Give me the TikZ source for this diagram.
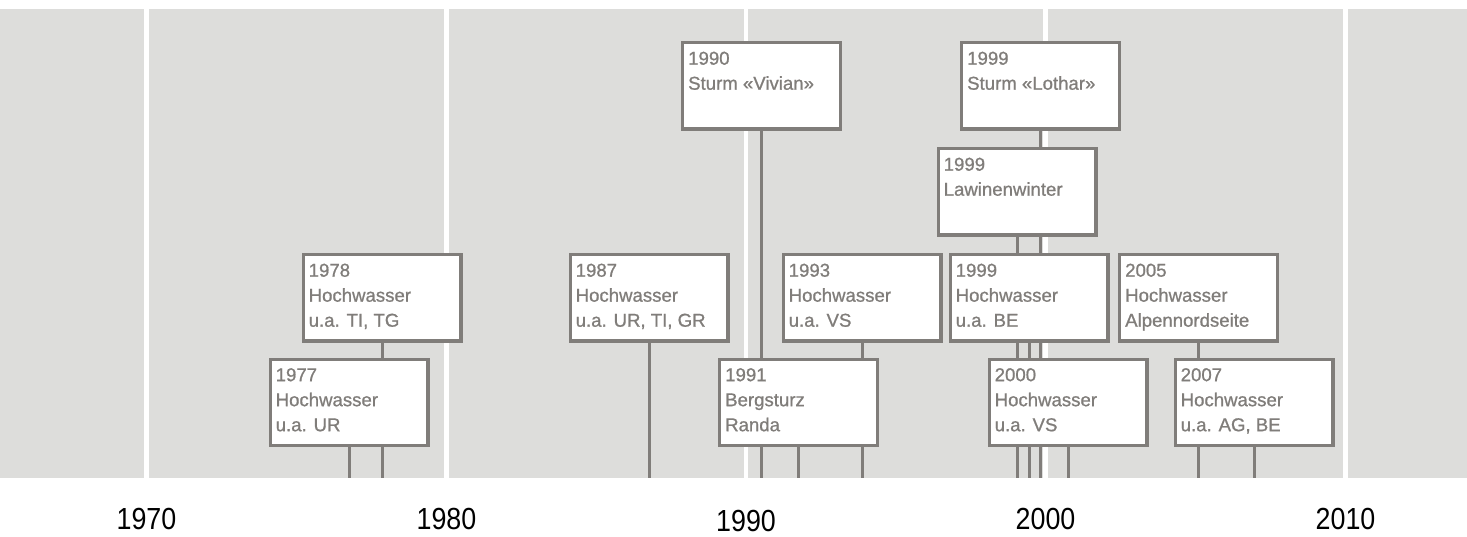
\documentclass[tikz,border=0pt]{standalone}
\usepackage{fontspec}
\setmainfont{Liberation Sans}
\newfontfamily\boxfont[FakeBold=0.9]{Liberation Sans}
\newfontfamily\yearfont[FakeStretch=0.88]{Liberation Sans}
\definecolor{bggray}{HTML}{DDDDDB}
\definecolor{boxgray}{HTML}{807D7A}
\pgfdeclarelayer{back}
\pgfdeclarelayer{lines}
\pgfsetlayers{back,lines,main}
\tikzset{
  evbox/.style={draw=boxgray, line width=3.2pt, fill=white, minimum width=157.8pt,
    minimum height=86.3pt, inner sep=0pt, anchor=north west},
  evtext/.style={anchor=north west, inner sep=0pt, align=left, text=boxgray,
    font=\boxfont\fontsize{18.6}{25}\selectfont},
  thread/.style={draw=boxgray, line width=3pt},
  yearlbl/.style={font=\yearfont\fontsize{30.5}{30.5}\selectfont, text=black, anchor=base},
  divider/.style={draw=white, line width=4.5pt}
}
\newcommand\evnode[4]{%
  \node[evbox] (#1) at (#2+1.6,#3+1.6) {};
  \node[evtext] (#1t) at (#2+8.5,#3+12) {#4};
}
\begin{document}
\begin{tikzpicture}[x=1pt,y=-1pt]
\useasboundingbox (0,0) rectangle (1467,536);
\begin{pgfonlayer}{back}
  \fill[bggray] (0,9) rectangle (1467,478);
  \foreach \xx in {146.5,446.5,746,1045.5,1345.5}
    \draw[divider] (\xx,9) -- (\xx,478);
\end{pgfonlayer}
\coordinate (axis) at (0,478);
% events
\evnode{e1978}{300}{251.5}{1978\\Hochwasser\\u.a. TI, TG}
\evnode{e1977}{267}{356}{1977\\Hochwasser\\u.a. UR}
\evnode{e1987}{567}{251.5}{1987\\Hochwasser\\u.a. UR, TI, GR}
\evnode{e1990}{679.5}{39.5}{1990\\Sturm «Vivian»}
\evnode{e1993}{780}{251.5}{1993\\Hochwasser\\u.a. VS}
\evnode{e1991}{716.5}{356}{1991\\Bergsturz\\Randa}
\evnode{e1999s}{958.5}{39.5}{1999\\Sturm «Lothar»}
\evnode{e1999l}{935}{145.5}{1999\\Lawinenwinter}
\evnode{e1999h}{947}{251.5}{1999\\Hochwasser\\u.a. BE}
\evnode{e2005}{1116.5}{251.5}{2005\\Hochwasser\\Alpennordseite}
\evnode{e2000}{986}{356}{2000\\Hochwasser\\u.a. VS}
\evnode{e2007}{1172}{356}{2007\\Hochwasser\\u.a. AG, BE}
% threads to the axis
\begin{pgfonlayer}{lines}
  \foreach \ev in {e1978,e1977,e1987,e1990,e1993,e1991,e1999s,e1999l,e1999h,e2005,e2000,e2007}
    \draw[thread] (\ev.south) -- (\ev.south |- axis);
\end{pgfonlayer}
% year labels
\node[yearlbl] (y1970) at (146.5,529) {1970};
\node[yearlbl] (y1980) at (446.5,529) {1980};
\node[yearlbl] (y1990) at (746,531) {1990};
\node[yearlbl] (y2000) at (1045.5,529) {2000};
\node[yearlbl] (y2010) at (1345.5,529) {2010};
\end{tikzpicture}
\end{document}
